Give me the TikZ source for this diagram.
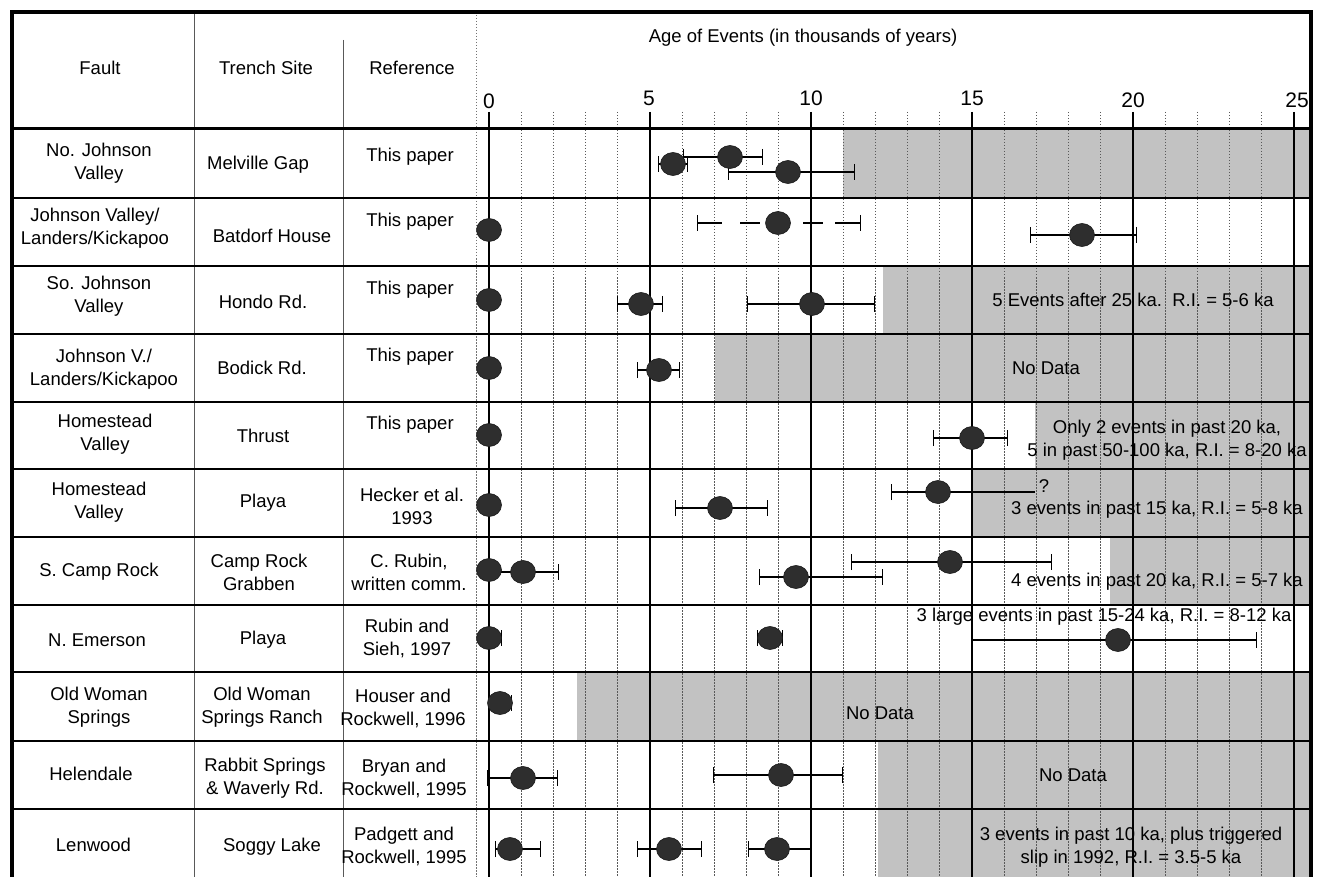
\documentclass[tikz,border=0pt]{standalone}
\usepackage{fontspec}
\setmainfont{Liberation Sans}
\usetikzlibrary{shapes.geometric,arrows.meta}
\begin{document}
\begin{tikzpicture}[x=1pt,y=-1pt,
  font=\fontsize{18.5}{23}\selectfont,
  cell/.style={align=center,inner sep=0pt,text=black},
  note/.style={align=center,inner sep=0pt,text=black},
  axnum/.style={font=\fontsize{21}{24}\selectfont,inner sep=0pt},
  ev/.style={ellipse,fill=black!82,draw=black!90,line width=0.6pt,minimum width=25pt,minimum height=23pt,inner sep=0pt},
  eb/.style={line width=1.4pt,{Bar[width=16pt]}-{Bar[width=16pt]}},
  ebr/.style={line width=1.4pt,-{Bar[width=16pt]}},
  ebl/.style={line width=1.4pt,{Bar[width=16pt]}-},
  ebplain/.style={line width=1.4pt},
  zerobar/.style={line width=2.6pt,black},
  shadebox/.style={fill=black!24,draw=none},
  minorgrid/.style={black!65,line width=0.9pt,dash pattern=on 1.5pt off 1.5pt},
  majorgrid/.style={black,line width=1.1pt},
  rowrule/.style={black,line width=2.2pt},
  colrule/.style={black!65,line width=1pt},
  plotedge/.style={black!55,line width=0.9pt,dash pattern=on 1.5pt off 1.5pt},
  frame/.style={black,line width=3.2pt},
]
\useasboundingbox (0,0) rectangle (1317,877);
\fill[white] (0,0) rectangle (1317,877);

% shaded "no data" regions
\fill[shadebox] (843,129) rectangle (1311,198);
\fill[shadebox] (883,266) rectangle (1311,334);
\fill[shadebox] (715,334) rectangle (1311,402);
\fill[shadebox] (1035,402) rectangle (1311,469);
\fill[shadebox] (972,469) rectangle (1311,537);
\fill[shadebox] (1110,537) rectangle (1311,605);
\fill[shadebox] (577,672) rectangle (1311,741);
\fill[shadebox] (878,741) rectangle (1311,809);
\fill[shadebox] (878,809) rectangle (1311,877);

% grid
\foreach \t in {1,2,3,4,6,7,8,9,11,12,13,14,16,17,18,19,21,22,23,24}
  \draw[minorgrid] ({489+32.2*\t},112) -- ({489+32.2*\t},877);
\foreach \t in {0,5,10,15,20,25}
  \draw[majorgrid] ({489+32.2*\t},112) -- ({489+32.2*\t},877);

% column lines
\draw[colrule] (194,12) -- (194,877);
\draw[colrule] (343,40) -- (343,877);
\draw[plotedge] (476,15) -- (476,877);

% rows
\foreach \y in {198,266,334,402,469,537,605,672,741,809}
  \draw[rowrule] (12,\y) -- (1311,\y);
\draw[line width=3pt] (12,128.5) -- (1311,128.5);
\draw[frame] (12,877) -- (12,12) -- (1311,12) -- (1311,877);

% header
\node[cell] (hFault) at (100,68) {Fault};
\node[cell] (hTrench) at (266,68) {Trench Site};
\node[cell] (hRef) at (412,68) {Reference};
\node[cell] (hAge) at (803,38) {Age of Events (in thousands of years)};
\node[axnum] (a0) at (489,101) {0};
\node[axnum] (a5) at (649,98) {5};
\node[axnum] (a10) at (811,98) {10};
\node[axnum] (a15) at (972,98) {15};
\node[axnum] (a20) at (1133,100) {20};
\node[axnum] (a25) at (1297,100) {25};

% table text
\node[cell] (f1) at (99,163.5) {No. Johnson\\Valley};
\node[cell] (t1) at (258,165) {Melville Gap};
\node[cell] (r1) at (410,157) {This paper};
\node[cell] (f2) at (95,228.5) {Johnson Valley/\\Landers/Kickapoo};
\node[cell] (t2) at (272,236) {Batdorf House};
\node[cell] (r2) at (410,222) {This paper};
\node[cell] (f3) at (99,296) {So. Johnson\\Valley};
\node[cell] (t3) at (263,302) {Hondo Rd.};
\node[cell] (r3) at (410,290) {This paper};
\node[cell] (f4) at (104,369) {Johnson V./\\Landers/Kickapoo};
\node[cell] (t4) at (262,368) {Bodick Rd.};
\node[cell] (r4) at (410,357) {This paper};
\node[cell] (f5) at (105,434.5) {Homestead\\Valley};
\node[cell] (t5) at (263,436) {Thrust};
\node[cell] (r5) at (410,425) {This paper};
\node[cell] (f6) at (99,502) {Homestead\\Valley};
\node[cell] (t6) at (263,503) {Playa};
\node[cell] (r6) at (412,506) {Hecker et al.\\1993};
\node[cell] (f7) at (99,572) {S. Camp Rock};
\node[cell] (t7) at (259,572) {Camp Rock\\Grabben};
\node[cell] (r7) at (409,572) {C. Rubin,\\written comm.};
\node[cell] (f8) at (97,640) {N. Emerson};
\node[cell] (t8) at (263,640) {Playa};
\node[cell] (r8) at (407,638) {Rubin and\\Sieh, 1997};
\node[cell] (f9) at (99,707.5) {Old Woman\\Springs};
\node[cell] (t9) at (262,707.5) {Old Woman\\Springs Ranch};
\node[cell] (r9) at (403,708) {Houser and\\Rockwell, 1996};
\node[cell] (f10) at (91,774) {Helendale};
\node[cell] (t10) at (265,778.5) {Rabbit Springs\\\& Waverly Rd.};
\node[cell] (r10) at (404,778.5) {Bryan and\\Rockwell, 1995};
\node[cell] (f11) at (93.5,845) {Lenwood};
\node[cell] (t11) at (272,847) {Soggy Lake};
\node[cell] (r11) at (404,846) {Padgett and\\Rockwell, 1995};

% annotations
\node[note] (n3) at (1133,300) {5 Events after 25 ka.\ \ R.I. = 5-6 ka};
\node[note] (n4) at (1046,368) {No Data};
\node[note] (n5) at (1167,440) {Only 2 events in past 20 ka,\\5 in past 50-100 ka, R.I. = 8-20 ka};
\node[note] (n6) at (1157,510) {3 events in past 15 ka, R.I. = 5-8 ka};
\node[note] (n7) at (1157,582) {4 events in past 20 ka, R.I. = 5-7 ka};
\node[note] (n8) at (1104,617) {3 large events in past 15-24 ka, R.I. = 8-12 ka};
\node[note] (n9) at (880,713) {No Data};
\node[note] (n10) at (1073,775) {No Data};
\node[note] (n11) at (1131,847) {3 events in past 10 ka, plus triggered\\slip in 1992, R.I. = 3.5-5 ka};

% zero-age bars
\foreach \y in {230,300,368,435,505,570,638}
  \draw[zerobar] (489,{\y-18}) -- (489,{\y+18});

% error bars
\draw[eb] (658,164) -- (688,164);
\draw[eb] (683,157) -- (763,157);
\draw[eb] (728,172) -- (855,172);
\draw[ebl] (697,223) -- (722,223);
\draw[ebplain] (740,223) -- (760,223);
\draw[ebplain] (803,223) -- (823,223);
\draw[ebr] (835,223) -- (861,223);
\draw[eb] (1030,235) -- (1137,235);
\draw[eb] (617,304) -- (663,304);
\draw[eb] (747,304) -- (875,304);
\draw[eb] (637,370) -- (680,370);
\draw[eb] (933,438) -- (1008,438);
\draw[eb] (675,508) -- (768,508);
\draw[ebl] (891,492) -- (1035,492);
\node[note] (q6) at (1044,486) {?};
\draw[ebr] (489,572) -- (559,572);
\draw[eb] (759,577) -- (883,577);
\draw[eb] (851,562) -- (1052,562);
\draw[ebr] (489,638) -- (502,638);
\draw[eb] (757,638) -- (783,638);
\draw[eb] (971,640) -- (1257,640);
\draw[eb] (488,703) -- (512,703);
\draw[eb] (487,778) -- (558,778);
\draw[eb] (713,775) -- (843,775);
\draw[eb] (495,849) -- (541,849);
\draw[eb] (637,849) -- (702,849);
\draw[eb] (748,849) -- (812,849);

% events
\node[ev] (e1a) at (673,164) {};
\node[ev] (e1b) at (730,157) {};
\node[ev] (e1c) at (788,172) {};
\node[ev] (e2a) at (489,230) {};
\node[ev] (e2b) at (778,223) {};
\node[ev] (e2c) at (1082,235) {};
\node[ev] (e3a) at (489,300) {};
\node[ev] (e3b) at (641,304) {};
\node[ev] (e3c) at (812,304) {};
\node[ev] (e4a) at (489,368) {};
\node[ev] (e4b) at (659,370) {};
\node[ev] (e5a) at (489,435) {};
\node[ev] (e5b) at (972,438) {};
\node[ev] (e6a) at (489,505) {};
\node[ev] (e6b) at (720,508) {};
\node[ev] (e6c) at (938,492) {};
\node[ev] (e7a) at (489,570) {};
\node[ev] (e7b) at (523,572) {};
\node[ev] (e7c) at (796,577) {};
\node[ev] (e7d) at (950,562) {};
\node[ev] (e8a) at (489,638) {};
\node[ev] (e8b) at (770,638) {};
\node[ev] (e8c) at (1118,640) {};
\node[ev] (e9a) at (500,703) {};
\node[ev] (e10a) at (523,778) {};
\node[ev] (e10b) at (781,775) {};
\node[ev] (e11a) at (510,849) {};
\node[ev] (e11b) at (669,849) {};
\node[ev] (e11c) at (777,849) {};
\end{tikzpicture}
\end{document}
